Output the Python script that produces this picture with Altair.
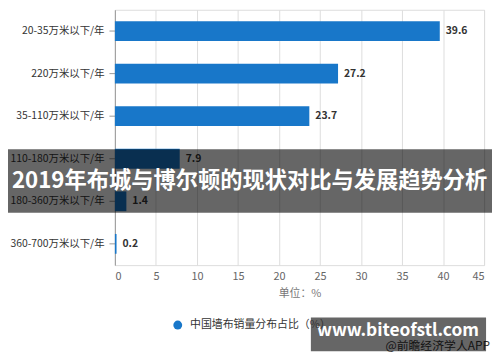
import altair as alt
import pandas as pd

categories = ["20-35万米以下/年", "220万米以下/年", "35-110万米以下/年",
              "110-180万米以下/年", "180-360万米以下/年", "360-700万米以下/年"]
values = [39.6, 27.2, 23.7, 7.9, 1.4, 0.2]
series_name = "中国墙布销量分布占比（%）"
x_ticks = [0, 5, 10, 15, 20, 25, 30, 35, 40, 45]
axis_title = "单位：%"
banner_title = "2019年布城与博尔顿的现状对比与发展趋势分析"
site_text = "www.biteofstl.com"
credit_text = "@前瞻经济学人APP"

FONT = "Noto Sans CJK SC"
BLUE = "#1877c9"

df = pd.DataFrame({"cat": categories, "val": values, "series": [series_name] * len(values)})
one = pd.DataFrame({"title": [banner_title], "site": [site_text], "credit": [credit_text]})

W, H = 373, 258

base = alt.Chart(df)

bars = base.mark_bar(size=20).encode(
    y=alt.Y("cat:N", sort=categories, title=None,
            scale=alt.Scale(paddingInner=0.53, paddingOuter=0.265),
            axis=alt.Axis(labelFont=FONT, labelFontSize=10.5, labelColor="#333333",
                          domainColor="#999999", tickColor="#999999", tickSize=6,
                          labelPadding=5, minExtent=108, maxExtent=108, grid=False)),
    x=alt.X("val:Q", title=axis_title,
            scale=alt.Scale(domain=[0, 45], nice=False),
            axis=alt.Axis(values=x_ticks, labelFont=FONT, labelFontSize=11, labelColor="#666666",
                          titleFont=FONT, titleFontSize=11, titleColor="#777777",
                          titleFontWeight="normal", titlePadding=6,
                          domain=False, ticks=False, labelPadding=6,
                          grid=True, gridColor="#dddddd")),
    color=alt.Color("series:N", scale=alt.Scale(range=[BLUE]),
                    legend=alt.Legend(title=None, orient="none", legendX=58, legendY=313,
                                      symbolType="circle", symbolSize=80, labelFont=FONT,
                                      labelFontSize=11, labelColor="#333333", padding=0,
                                      labelOffset=7)),
)

labels = base.mark_text(align="left", baseline="middle", dx=6, font=FONT, fontSize=10.5,
                        fontWeight="bold", color="#333333").encode(
    y=alt.Y("cat:N", sort=categories),
    x=alt.X("val:Q"),
    text=alt.Text("val:Q", format=".1f"),
)

ov = alt.Chart(one)

credit = ov.mark_text(align="right", baseline="middle", font=FONT, fontSize=12,
                      color="#333333").encode(
    x=alt.value(379), y=alt.value(340), text="credit:N")

band1 = ov.mark_rect(color="black", opacity=0.6).encode(
    x=alt.value(-108), x2=alt.value(381), y=alt.value(141), y2=alt.value(205))

title_txt = ov.mark_text(align="center", baseline="middle", font=FONT, fontSize=22.5,
                         fontWeight="bold", color="white").encode(
    x=alt.value(136), y=alt.value(173), text="title:N")

band2 = ov.mark_rect(color="black", opacity=0.6).encode(
    x=alt.value(198), x2=alt.value(375), y=alt.value(311), y2=alt.value(345))

site = ov.mark_text(align="center", baseline="middle", font=FONT, fontSize=17.5,
                    fontWeight="bold", color="white").encode(
    x=alt.value(286), y=alt.value(325), text="site:N")

chart = alt.layer(bars, labels, credit, band1, title_txt, band2, site).properties(
    width=W, height=H,
    autosize=alt.AutoSizeParams(type="none"),
    padding={"left": 108, "top": 0, "right": 8, "bottom": 89},
).configure_view(stroke=None).configure(background="white")

chart.save("out.html", embed_options={"renderer": "svg", "actions": False})
